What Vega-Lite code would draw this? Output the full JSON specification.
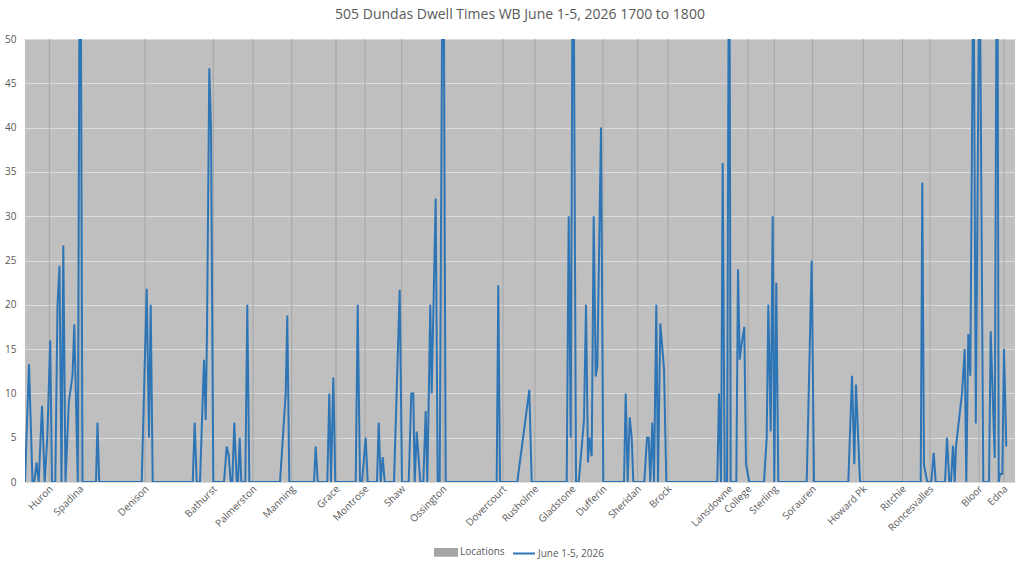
{
  "$schema": "https://vega.github.io/schema/vega-lite/v6.json",
  "width": 990,
  "height": 443,
  "autosize": "none",
  "padding": {"left": 25, "top": 39, "right": 9, "bottom": 81},
  "background": "#ffffff",
  "title": {
    "text": "505 Dundas Dwell Times WB June 1-5, 2026 1700 to 1800",
    "fontSize": 14,
    "fontWeight": "normal",
    "color": "#595959",
    "font": "Open Sans",
    "offset": 12,
    "anchor": "middle"
  },
  "datasets": {
    "locations": [
      {"name": "Huron", "pos": 24.3},
      {"name": "Spadina", "pos": 55},
      {"name": "Denison", "pos": 120},
      {"name": "Bathurst", "pos": 188.3},
      {"name": "Palmerston", "pos": 228},
      {"name": "Manning", "pos": 266.7},
      {"name": "Grace", "pos": 311},
      {"name": "Montrose", "pos": 340},
      {"name": "Shaw", "pos": 376.7},
      {"name": "Ossington", "pos": 418},
      {"name": "Dovercourt", "pos": 478},
      {"name": "Rusholme", "pos": 510},
      {"name": "Gladstone", "pos": 547},
      {"name": "Dufferin", "pos": 578},
      {"name": "Sheridan", "pos": 612.7},
      {"name": "Brock", "pos": 643},
      {"name": "Lansdowne", "pos": 704},
      {"name": "College", "pos": 723},
      {"name": "Sterling", "pos": 749.3},
      {"name": "Sorauren", "pos": 787.7},
      {"name": "Howard Pk", "pos": 838.3},
      {"name": "Ritchie", "pos": 877.5},
      {"name": "Roncesvalles", "pos": 905},
      {"name": "Bloor", "pos": 954},
      {"name": "Edna", "pos": 979}
    ],
    "dwell": [
      {"pos": 0, "dwell": 0}, {"pos": 4, "dwell": 13.3}, {"pos": 7.5, "dwell": 0}, {"pos": 9.3, "dwell": 0},
      {"pos": 11.5, "dwell": 2.2}, {"pos": 13.7, "dwell": 0}, {"pos": 17, "dwell": 8.6}, {"pos": 19.7, "dwell": 0},
      {"pos": 22.3, "dwell": 5}, {"pos": 25.2, "dwell": 16}, {"pos": 27, "dwell": 0}, {"pos": 30.3, "dwell": 0},
      {"pos": 32.5, "dwell": 20}, {"pos": 34.5, "dwell": 24.4}, {"pos": 36.5, "dwell": 0}, {"pos": 38.3, "dwell": 26.7},
      {"pos": 40.5, "dwell": 0}, {"pos": 43.8, "dwell": 9}, {"pos": 47.5, "dwell": 12}, {"pos": 49.3, "dwell": 17.8},
      {"pos": 52.8, "dwell": 0}, {"pos": 54.3, "dwell": 50}, {"pos": 56, "dwell": 50}, {"pos": 57.5, "dwell": 0},
      {"pos": 71, "dwell": 0}, {"pos": 72.5, "dwell": 6.7}, {"pos": 74.2, "dwell": 0},
      {"pos": 116.7, "dwell": 0}, {"pos": 121.7, "dwell": 21.8}, {"pos": 124, "dwell": 5}, {"pos": 125.7, "dwell": 20}, {"pos": 127.7, "dwell": 0},
      {"pos": 167.7, "dwell": 0}, {"pos": 169.7, "dwell": 6.7}, {"pos": 171.7, "dwell": 0}, {"pos": 175, "dwell": 0},
      {"pos": 179, "dwell": 13.8}, {"pos": 180.7, "dwell": 7}, {"pos": 182, "dwell": 17}, {"pos": 184.3, "dwell": 46.7},
      {"pos": 186, "dwell": 40}, {"pos": 188.3, "dwell": 0},
      {"pos": 199, "dwell": 0}, {"pos": 201.7, "dwell": 4}, {"pos": 203.7, "dwell": 3}, {"pos": 205.7, "dwell": 0},
      {"pos": 207.3, "dwell": 0}, {"pos": 209.3, "dwell": 6.7}, {"pos": 211.7, "dwell": 0}, {"pos": 213, "dwell": 0},
      {"pos": 214.7, "dwell": 5}, {"pos": 216.3, "dwell": 0}, {"pos": 220.3, "dwell": 0}, {"pos": 222.3, "dwell": 20}, {"pos": 224.3, "dwell": 0},
      {"pos": 255, "dwell": 0}, {"pos": 260.7, "dwell": 10}, {"pos": 262.3, "dwell": 18.8}, {"pos": 264.3, "dwell": 0},
      {"pos": 289, "dwell": 0}, {"pos": 290.7, "dwell": 4}, {"pos": 292.7, "dwell": 0},
      {"pos": 302.3, "dwell": 0}, {"pos": 304.3, "dwell": 10}, {"pos": 306, "dwell": 0}, {"pos": 308.3, "dwell": 11.8}, {"pos": 310.3, "dwell": 0},
      {"pos": 330.7, "dwell": 0}, {"pos": 332.7, "dwell": 20}, {"pos": 335, "dwell": 0}, {"pos": 337, "dwell": 0},
      {"pos": 340.7, "dwell": 5}, {"pos": 342.7, "dwell": 0},
      {"pos": 352, "dwell": 0}, {"pos": 353.7, "dwell": 6.7}, {"pos": 355.7, "dwell": 0}, {"pos": 357.7, "dwell": 2.8}, {"pos": 359.7, "dwell": 0},
      {"pos": 369, "dwell": 0}, {"pos": 374.7, "dwell": 21.7}, {"pos": 377, "dwell": 0},
      {"pos": 383.7, "dwell": 0}, {"pos": 386.3, "dwell": 10}, {"pos": 388.3, "dwell": 10}, {"pos": 389.7, "dwell": 0},
      {"pos": 391.7, "dwell": 5.7}, {"pos": 395.3, "dwell": 0}, {"pos": 398.3, "dwell": 0}, {"pos": 400.7, "dwell": 8},
      {"pos": 402.3, "dwell": 0}, {"pos": 405.3, "dwell": 20}, {"pos": 406.7, "dwell": 10}, {"pos": 408.5, "dwell": 20},
      {"pos": 410.7, "dwell": 32}, {"pos": 412.7, "dwell": 0}, {"pos": 414.7, "dwell": 0}, {"pos": 417, "dwell": 50},
      {"pos": 419, "dwell": 50}, {"pos": 420.7, "dwell": 0},
      {"pos": 471.7, "dwell": 0}, {"pos": 473.3, "dwell": 22.2}, {"pos": 475, "dwell": 0},
      {"pos": 492.3, "dwell": 0}, {"pos": 504.3, "dwell": 10.4}, {"pos": 506.7, "dwell": 0},
      {"pos": 541.7, "dwell": 0}, {"pos": 543.7, "dwell": 30}, {"pos": 545.7, "dwell": 5}, {"pos": 547.3, "dwell": 50},
      {"pos": 549, "dwell": 50}, {"pos": 551, "dwell": 0}, {"pos": 553.7, "dwell": 0}, {"pos": 559, "dwell": 7},
      {"pos": 561, "dwell": 20}, {"pos": 563, "dwell": 2.2}, {"pos": 564.3, "dwell": 5}, {"pos": 566.7, "dwell": 2.9},
      {"pos": 568.7, "dwell": 30}, {"pos": 570.7, "dwell": 11.9}, {"pos": 572.3, "dwell": 13}, {"pos": 576, "dwell": 40},
      {"pos": 578.3, "dwell": 0},
      {"pos": 599, "dwell": 0}, {"pos": 600.7, "dwell": 10}, {"pos": 602.7, "dwell": 0}, {"pos": 604.7, "dwell": 7.3},
      {"pos": 606.7, "dwell": 5}, {"pos": 608.3, "dwell": 0},
      {"pos": 619.3, "dwell": 0}, {"pos": 622, "dwell": 5}, {"pos": 623.7, "dwell": 5}, {"pos": 625.3, "dwell": 0},
      {"pos": 627.3, "dwell": 6.7}, {"pos": 629, "dwell": 0}, {"pos": 631.3, "dwell": 20}, {"pos": 633, "dwell": 0},
      {"pos": 635.3, "dwell": 17.9}, {"pos": 639, "dwell": 12.8}, {"pos": 641.3, "dwell": 0},
      {"pos": 692.3, "dwell": 0}, {"pos": 694, "dwell": 10}, {"pos": 696, "dwell": 0}, {"pos": 697.7, "dwell": 36},
      {"pos": 699.7, "dwell": 0}, {"pos": 702, "dwell": 0}, {"pos": 703.5, "dwell": 50}, {"pos": 704.7, "dwell": 50},
      {"pos": 705.7, "dwell": 0}, {"pos": 711.3, "dwell": 0}, {"pos": 713, "dwell": 24}, {"pos": 714.7, "dwell": 13.8},
      {"pos": 716.5, "dwell": 15.5}, {"pos": 719.3, "dwell": 17.5}, {"pos": 721, "dwell": 2}, {"pos": 724.3, "dwell": 0},
      {"pos": 739, "dwell": 0}, {"pos": 741.7, "dwell": 5}, {"pos": 743.3, "dwell": 20}, {"pos": 745.7, "dwell": 5.7},
      {"pos": 747.7, "dwell": 30}, {"pos": 749.3, "dwell": 0}, {"pos": 751.3, "dwell": 22.5}, {"pos": 753.3, "dwell": 0},
      {"pos": 781.7, "dwell": 0}, {"pos": 786.7, "dwell": 25}, {"pos": 789, "dwell": 0},
      {"pos": 823.3, "dwell": 0}, {"pos": 827, "dwell": 12}, {"pos": 829.3, "dwell": 2}, {"pos": 831, "dwell": 11}, {"pos": 835, "dwell": 0},
      {"pos": 895.7, "dwell": 0}, {"pos": 897.3, "dwell": 33.8}, {"pos": 899, "dwell": 1.9}, {"pos": 902.3, "dwell": 0},
      {"pos": 906.3, "dwell": 0}, {"pos": 908.7, "dwell": 3.3}, {"pos": 910.7, "dwell": 0},
      {"pos": 920, "dwell": 0}, {"pos": 922, "dwell": 5}, {"pos": 924.3, "dwell": 0}, {"pos": 926, "dwell": 0},
      {"pos": 928, "dwell": 4.1}, {"pos": 929.7, "dwell": 0}, {"pos": 931, "dwell": 4}, {"pos": 937, "dwell": 10},
      {"pos": 939.7, "dwell": 15}, {"pos": 941.3, "dwell": 0}, {"pos": 943.3, "dwell": 16.7}, {"pos": 945.3, "dwell": 12},
      {"pos": 947.7, "dwell": 50}, {"pos": 949, "dwell": 50}, {"pos": 950.8, "dwell": 6.6}, {"pos": 953.7, "dwell": 50},
      {"pos": 955.3, "dwell": 50}, {"pos": 958.3, "dwell": 0}, {"pos": 964, "dwell": 0}, {"pos": 965.7, "dwell": 17},
      {"pos": 969.7, "dwell": 2.7}, {"pos": 971.3, "dwell": 50}, {"pos": 972.7, "dwell": 50}, {"pos": 973.7, "dwell": 0},
      {"pos": 975, "dwell": 0.9}, {"pos": 977.3, "dwell": 0.9}, {"pos": 979, "dwell": 15}, {"pos": 981.3, "dwell": 4}
    ]
  },
  "layer": [
    {
      "data": {"name": "locations"},
      "mark": {"type": "rule", "strokeWidth": 1, "color": "#A0A0A0"},
      "encoding": {
        "x": {"field": "pos", "type": "quantitative", "scale": {"domain": [0, 990], "nice": false, "zero": false}, "axis": null},
        "color": {"datum": "Locations", "type": "nominal"}
      }
    },
    {
      "data": {"name": "dwell"},
      "mark": {"type": "line", "strokeWidth": 2, "clip": true, "strokeJoin": "miter"},
      "encoding": {
        "x": {"field": "pos", "type": "quantitative", "axis": null},
        "y": {
          "field": "dwell",
          "type": "quantitative",
          "scale": {"domain": [0, 50], "nice": false},
          "axis": {
            "values": [0, 5, 10, 15, 20, 25, 30, 35, 40, 45, 50],
            "title": null,
            "domain": false,
            "ticks": false,
            "labelPadding": 9,
            "grid": true,
            "gridColor": "#DCDCDC",
            "gridWidth": 1,
            "labelColor": "#595959",
            "labelFontSize": 10,
            "labelFont": "Open Sans"
          }
        },
        "color": {
          "datum": "June 1-5, 2026",
          "type": "nominal",
          "scale": {"domain": ["Locations", "June 1-5, 2026"], "range": ["#A5A5A5", "#2E75B6"]},
          "legend": {
            "title": null,
            "orient": "none",
            "direction": "horizontal",
            "legendX": 409,
            "legendY": 501,
            "labelFontSize": 10,
            "labelColor": "#595959",
            "labelFont": "Open Sans",
            "symbolSize": 484,
            "columnPadding": 4,
            "labelOffset": 2,
            "encode": {
              "symbols": {
                "update": {
                  "shape": {"signal": "datum.label === 'Locations' ? 'M-1,-0.3H1V0.3H-1Z' : 'M-1,0H1'"},
                  "fill": {"signal": "datum.label === 'Locations' ? '#A5A5A5' : 'transparent'"},
                  "stroke": {"signal": "datum.label === 'Locations' ? 'transparent' : '#2E75B6'"},
                  "strokeWidth": {"value": 2}
                }
              }
            }
          }
        }
      }
    },
    {
      "data": {"name": "locations"},
      "mark": {
        "type": "text",
        "angle": 315,
        "align": "right",
        "baseline": "middle",
        "dx": -2.4,
        "dy": 5.4,
        "fontSize": 10,
        "font": "Open Sans",
        "color": "#595959"
      },
      "encoding": {
        "x": {"field": "pos", "type": "quantitative", "axis": null},
        "y": {"datum": 0, "type": "quantitative"},
        "text": {"field": "name"}
      }
    }
  ],
  "config": {
    "view": {"fill": "#BFBFBF", "stroke": null}
  }
}
